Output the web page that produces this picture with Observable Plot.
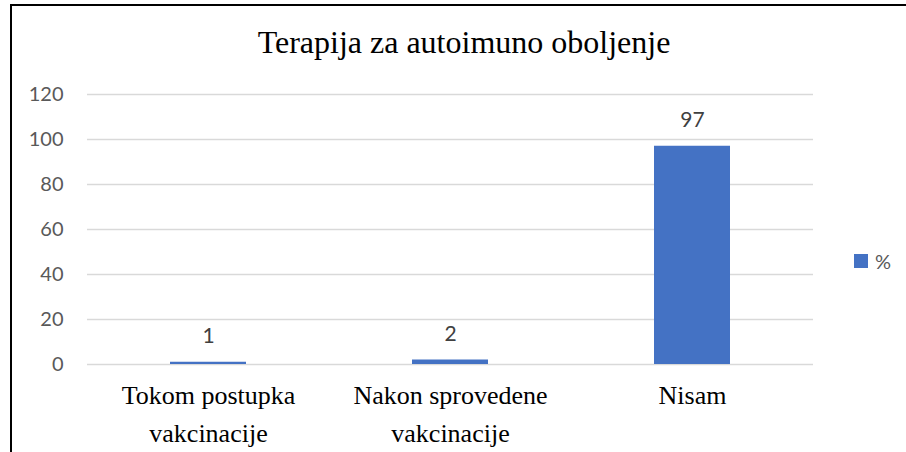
<!DOCTYPE html>
<html>
<head>
<meta charset="utf-8">
<script src="https://cdn.jsdelivr.net/npm/d3@7"></script>
<script src="https://cdn.jsdelivr.net/npm/@observablehq/plot@0.6"></script>
<style>
  html, body { margin: 0; padding: 0; background: #fff; }
  #wrap { position: relative; width: 906px; height: 452px; overflow: hidden; background: #fff; }
  #frame { position: absolute; left: 10px; top: 4px; width: 1000px; height: 1000px; border: 2px solid #000; box-sizing: border-box; pointer-events: none; }
  #title { position: absolute; left: 0; width: 928px; top: 26px; text-align: center; font-family: "Liberation Serif", "Times New Roman", serif; font-size: 32px; line-height: 32px; color: #000; white-space: nowrap; }
  #chart { position: absolute; left: 0; top: 0; }
  #legend { position: absolute; left: 854px; top: 251px; display: flex; align-items: center; font-family: Lato, sans-serif; font-size: 20px; color: #595959; height: 20px; }
  #legend .sw { width: 14px; height: 14px; background: #4472c4; margin-right: 7px; }
  .xlab text { font-family: "Liberation Serif", "Times New Roman", serif !important; }
</style>
</head>
<body>
<div id="wrap">
  <div id="chart"></div>
  <div id="title"></div>
  <div id="legend"><span class="sw"></span><span id="legtext"></span></div>
  <div id="frame"></div>
</div>
<script>
const chartTitle = "Terapija za autoimuno oboljenje";
const categories = ["Tokom postupka\nvakcinacije", "Nakon sprovedene\nvakcinacije", "Nisam"];
const values = [1, 2, 97];
const yTicks = [0, 20, 40, 60, 80, 100, 120];
const seriesName = "%";

const data = categories.map((c, i) => ({cat: c, value: values[i]}));

document.getElementById("title").textContent = chartTitle;
document.getElementById("legtext").textContent = seriesName;

const serif = "'Liberation Serif', 'Times New Roman', serif";

const chart = Plot.plot({
  width: 906,
  height: 452,
  marginLeft: 87,
  marginRight: 93,
  marginTop: 94,
  marginBottom: 88,
  style: {background: "transparent", overflow: "visible"},
  x: {domain: categories, paddingInner: 0.686, paddingOuter: 0.343, label: null},
  y: {domain: [0, 120], label: null},
  marks: [
    Plot.gridY(yTicks, {stroke: "#d9d9d9", strokeOpacity: 1, strokeWidth: 1.5}),
    Plot.barY(data, {x: "cat", y: "value", fill: "#4472c4"}),
    Plot.text(data, {x: "cat", y: "value", text: d => String(d.value), dy: -26, fontSize: 21, fill: "#404040", fontFamily: "Lato"}),
    Plot.axisY(yTicks, {tickSize: 0, tickPadding: 24, fontSize: 20, color: "#595959", fontFamily: "Lato", label: null}),
    Plot.axisX({tickSize: 0, tickPadding: 13, fontSize: 26, fontFamily: serif, color: "#000", lineHeight: 1.45, label: null, className: "xlab"})
  ]
});
d3.select(chart).selectAll('g[aria-label="x-axis tick label"]').classed("xlab", true)
  .style("font-family", serif).selectAll("text").style("font-family", serif);
document.getElementById("chart").appendChild(chart);
</script>
</body>
</html>
